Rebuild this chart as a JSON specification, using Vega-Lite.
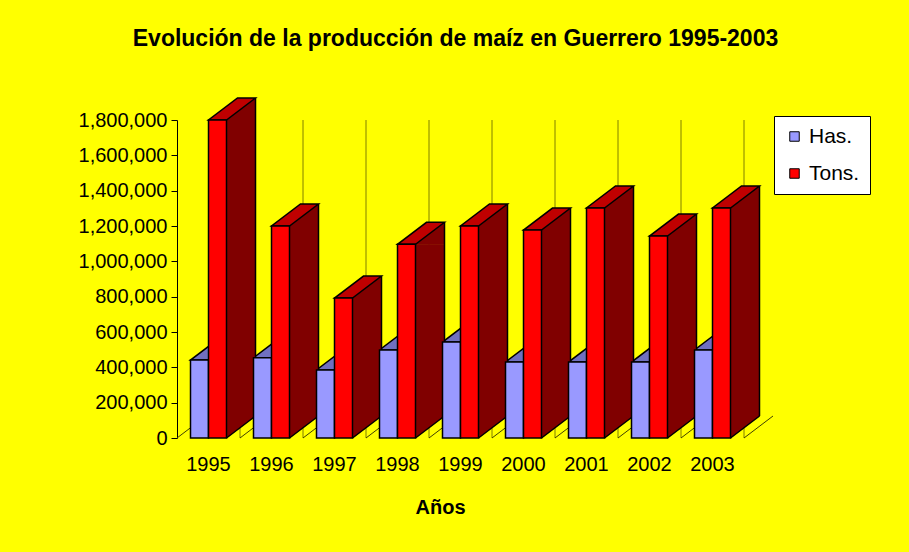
{
  "$schema": "https://vega.github.io/schema/vega-lite/v6.json",
  "width": 567,
  "height": 318,
  "autosize": "none",
  "padding": {"left": 177, "top": 120, "right": 165, "bottom": 114},
  "background": "#FFFF00",
  "config": {
    "view": {"stroke": null},
    "axisY": {"tickCount": 10, "labelOverlap": false, "grid": false, "domain": true, "domainColor": "#000000", "domainWidth": 1, "ticks": true, "tickColor": "#000000", "tickSize": 6, "labelFont": "Liberation Sans", "labelFontSize": 20, "labelColor": "#000000", "labelPadding": 4, "title": null}
  },
  "title": {"text": "Evolución de la producción de maíz en Guerrero 1995-2003", "font": "Liberation Sans", "fontSize": 23, "fontWeight": "bold", "color": "#000000", "anchor": "middle", "frame": "group", "offset": 44, "dx": -5},
  "data": {"values": [
    {"year": "1995", "series": "Has.", "value": 441000},
    {"year": "1996", "series": "Has.", "value": 454000},
    {"year": "1997", "series": "Has.", "value": 385000},
    {"year": "1998", "series": "Has.", "value": 498000},
    {"year": "1999", "series": "Has.", "value": 543000},
    {"year": "2000", "series": "Has.", "value": 430000},
    {"year": "2001", "series": "Has.", "value": 430000},
    {"year": "2002", "series": "Has.", "value": 430000},
    {"year": "2003", "series": "Has.", "value": 498000},
    {"year": "1995", "series": "Tons.", "value": 1800000},
    {"year": "1996", "series": "Tons.", "value": 1200000},
    {"year": "1997", "series": "Tons.", "value": 792000},
    {"year": "1998", "series": "Tons.", "value": 1096000},
    {"year": "1999", "series": "Tons.", "value": 1200000},
    {"year": "2000", "series": "Tons.", "value": 1177000},
    {"year": "2001", "series": "Tons.", "value": 1302000},
    {"year": "2002", "series": "Tons.", "value": 1143000},
    {"year": "2003", "series": "Tons.", "value": 1302000}
  ]},
  "encoding": {
    "x": {"field": "year", "type": "ordinal", "title": "Años",
      "scale": {"paddingInner": 0.4286, "paddingOuter": 0.2143},
      "axis": {"domain": false, "ticks": false, "grid": false, "labelAngle": 0, "labelFont": "Liberation Sans", "labelFontSize": 20, "labelColor": "#000000", "labelPadding": 16, "titleFont": "Liberation Sans", "titleFontSize": 20, "titleFontWeight": "bold", "titleColor": "#000000", "titlePadding": 23, "titleX": 263}}
  },
  "layer": [
    {
      "transform": [{"filter": "datum.series == 'Tons.'"}],
      "mark": {"type": "rule", "color": "#808000", "strokeWidth": 1, "xOffset": 31.5}
    },
    {
      "transform": [{"filter": "datum.series == 'Tons.'"}],
      "mark": {"type": "point", "shape": "M0,0L29,-22", "size": 4, "filled": false, "stroke": "#404000", "strokeWidth": 1, "opacity": 1, "xOffset": 31.5},
      "encoding": {"y": {"datum": 0, "type": "quantitative", "title": null}}
    },
    {
      "transform": [{"filter": "datum.series == 'Tons.' && datum.year == '1995'"}],
      "mark": {"type": "point", "shape": "M0,0L29,-22", "size": 4, "filled": false, "stroke": "#404000", "strokeWidth": 1, "opacity": 1, "xOffset": -31.5},
      "encoding": {"y": {"datum": 0, "type": "quantitative", "title": null}}
    },
    {
      "transform": [{"filter": "datum.series == 'Has.'"}],
      "mark": {"type": "point", "shape": "M-18,0L0,0L29,-22L11,-22Z", "size": 4, "filled": true, "fill": "#7070C0", "stroke": "#000000", "strokeWidth": 1.5, "opacity": 1},
      "encoding": {"y": {"field": "value", "type": "quantitative", "title": null}}
    },
    {
      "transform": [{"filter": "datum.series == 'Tons.'"}],
      "mark": {"type": "bar", "width": 29, "xOffset": 32.5, "y2Offset": -22, "fill": "#800000", "stroke": "#800000", "strokeWidth": 0.5},
      "encoding": {"y": {"field": "value", "type": "quantitative", "title": null}, "y2": {"datum": 0}}
    },
    {
      "transform": [{"filter": "datum.series == 'Tons.'"}],
      "mark": {"type": "point", "shape": "M18,0L47,-22L47,0Z", "size": 4, "filled": true, "fill": "#800000", "stroke": "#800000", "strokeWidth": 0.5, "opacity": 1},
      "encoding": {"y": {"field": "value", "type": "quantitative", "title": null}}
    },
    {
      "transform": [{"filter": "datum.series == 'Tons.'"}],
      "mark": {"type": "point", "shape": "M18,0L18,-22L47,-22Z", "size": 4, "filled": true, "fill": "#800000", "stroke": "#800000", "strokeWidth": 0.5, "opacity": 1},
      "encoding": {"y": {"datum": 0, "type": "quantitative", "title": null}}
    },
    {
      "transform": [{"filter": "datum.series == 'Tons.'"}],
      "mark": {"type": "rule", "color": "#000000", "strokeWidth": 1.5, "xOffset": 47, "yOffset": -22, "y2Offset": -22},
      "encoding": {"y": {"field": "value", "type": "quantitative", "title": null}, "y2": {"datum": 0}}
    },
    {
      "transform": [{"filter": "datum.series == 'Tons.'"}],
      "mark": {"type": "point", "shape": "M18,0L47,-22", "size": 4, "filled": false, "stroke": "#000000", "strokeWidth": 1.5, "opacity": 1},
      "encoding": {"y": {"datum": 0, "type": "quantitative", "title": null}}
    },
    {
      "transform": [{"filter": "datum.series == 'Tons.'"}],
      "mark": {"type": "point", "shape": "M0,0L18,0L47,-22L29,-22Z", "size": 4, "filled": true, "fill": "#C00000", "stroke": "#000000", "strokeWidth": 1.5, "opacity": 1},
      "encoding": {"y": {"field": "value", "type": "quantitative", "title": null}}
    },
    {
      "mark": {"type": "bar", "stroke": "#000000", "strokeWidth": 1.5},
      "encoding": {
        "y": {"field": "value", "type": "quantitative", "title": null,
          "scale": {"domain": [0, 1800000], "nice": false}},
        "xOffset": {"field": "series", "type": "nominal", "scale": {"domain": ["Has.", "Tons."], "paddingInner": 0, "paddingOuter": 0}},
        "color": {"field": "series", "type": "nominal",
          "scale": {"domain": ["Has.", "Tons."], "range": ["#9999FF", "#FF0000"]},
          "legend": {"title": null, "orient": "none", "legendX": 597, "legendY": -4, "fillColor": "#FFFFFF", "strokeColor": "#000000", "padding": 10, "rowPadding": 15, "labelFont": "Liberation Sans", "labelFontSize": 21, "labelColor": "#000000", "labelOffset": 4, "symbolType": "square", "symbolSize": 90, "symbolStrokeColor": "#000000", "symbolStrokeWidth": 1}}
      }
    }
  ]
}
